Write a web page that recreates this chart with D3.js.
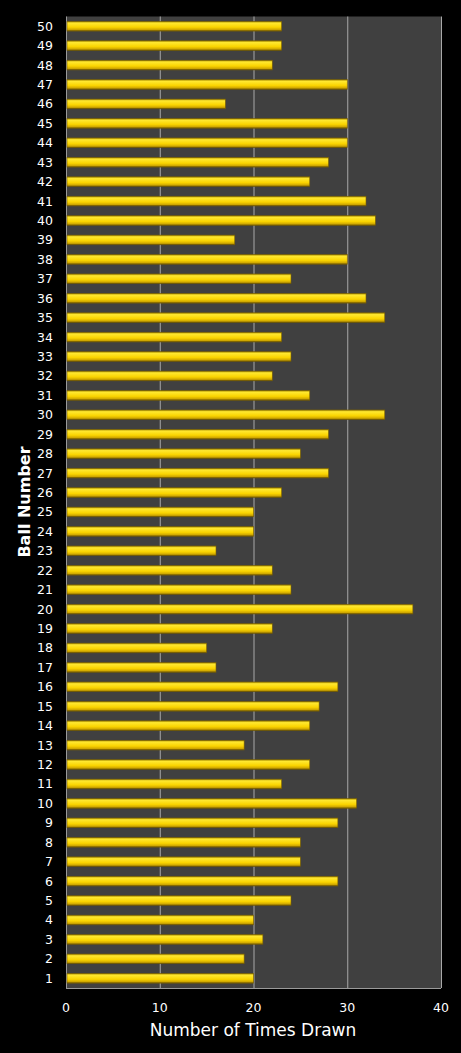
<!DOCTYPE html>
<html>
<head>
<meta charset="utf-8">
<script src="https://cdn.jsdelivr.net/npm/d3@7"></script>
<style>
  body { margin: 0; background: #000; }
  text { font-family: "DejaVu Sans", Verdana, sans-serif; fill: #fff; }
</style>
</head>
<body>
<svg width="461" height="1053"></svg>
<script>
var balls = d3.range(1, 51);
var timesDrawn = [20, 19, 21, 20, 24, 29, 25, 25, 29, 31,
                  23, 26, 19, 26, 27, 29, 16, 15, 22, 37,
                  24, 22, 16, 20, 20, 23, 28, 25, 28, 34,
                  26, 22, 24, 23, 34, 32, 24, 30, 18, 33,
                  32, 26, 28, 30, 30, 17, 30, 22, 23, 23];
var xTicks = [0, 10, 20, 30, 40];

var svg = d3.select("svg");
var plotLeft = 66, plotRight = 441, plotTop = 16.5, plotBottom = 988;

var x = d3.scaleLinear().domain([0, 40]).range([plotLeft, plotRight]);
var y = d3.scaleBand().domain(balls.slice().reverse()).range([plotTop, plotBottom])
    .paddingInner(0.5).paddingOuter(0.25);

// bar gradient
var grad = svg.append("defs").append("linearGradient")
    .attr("id", "barGrad").attr("x1", 0).attr("y1", 0).attr("x2", 0).attr("y2", 1);
grad.append("stop").attr("offset", "0%").attr("stop-color", "#a88c00");
grad.append("stop").attr("offset", "18%").attr("stop-color", "#ffe830");
grad.append("stop").attr("offset", "60%").attr("stop-color", "#fad400");
grad.append("stop").attr("offset", "85%").attr("stop-color", "#d0a800");
grad.append("stop").attr("offset", "100%").attr("stop-color", "#6a5200");

// plot area
svg.append("rect")
    .attr("x", plotLeft).attr("y", plotTop)
    .attr("width", plotRight - plotLeft).attr("height", plotBottom - plotTop)
    .attr("fill", "#404040");

// gridlines
svg.selectAll(".grid").data(xTicks.slice(1)).enter().append("line")
    .attr("x1", function(d){ return x(d) + 0.5; })
    .attr("x2", function(d){ return x(d) + 0.5; })
    .attr("y1", plotTop).attr("y2", plotBottom)
    .attr("stroke", "#a8a8a8").attr("stroke-width", 1);

// axis lines
svg.append("line").attr("x1", plotLeft + 0.5).attr("x2", plotLeft + 0.5).attr("y1", plotTop).attr("y2", plotBottom)
    .attr("stroke", "#9a9a9a");
svg.append("line").attr("x1", plotLeft).attr("x2", plotRight).attr("y1", plotBottom + 0.5).attr("y2", plotBottom + 0.5)
    .attr("stroke", "#9a9a9a");

// bars
svg.selectAll(".bar").data(balls).enter().append("rect")
    .attr("x", x(0) + 1)
    .attr("y", function(d){ return y(d); })
    .attr("width", function(d){ return x(timesDrawn[d - 1]) - x(0) - 1; })
    .attr("height", y.bandwidth())
    .attr("fill", "url(#barGrad)")
    .attr("stroke", "#7a6000").attr("stroke-width", 0.6);

// y tick labels
svg.selectAll(".ylab").data(balls).enter().append("text")
    .attr("x", 53)
    .attr("y", function(d){ return y(d) + y.bandwidth() / 2; })
    .attr("dy", "0.36em")
    .attr("text-anchor", "end")
    .style("font-size", "12.5px")
    .text(function(d){ return d; });

// x tick labels
svg.selectAll(".xlab").data(xTicks).enter().append("text")
    .attr("x", function(d){ return x(d); })
    .attr("y", 1012)
    .attr("text-anchor", "middle")
    .style("font-size", "12.5px")
    .text(function(d){ return d; });

// axis titles
svg.append("text")
    .attr("x", 253).attr("y", 1036)
    .attr("text-anchor", "middle")
    .style("font-size", "17px")
    .text("Number of Times Drawn");

svg.append("text")
    .attr("transform", "translate(30,502) rotate(-90)")
    .attr("text-anchor", "middle")
    .style("font-size", "16px")
    .style("font-weight", "bold")
    .text("Ball Number");
</script>
</body>
</html>
